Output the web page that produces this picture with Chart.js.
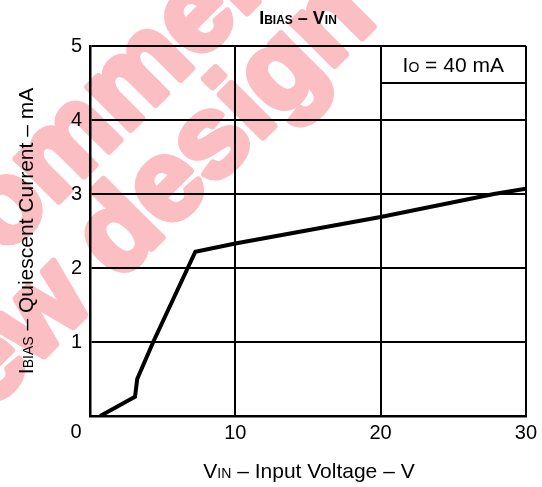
<!DOCTYPE html>
<html>
<head>
<meta charset="utf-8">
<script src="https://cdn.jsdelivr.net/npm/chart.js@4"></script>
<style>
  html, body { margin: 0; padding: 0; background: #fff; }
  #wrap { width: 542px; height: 487px; position: relative; }
</style>
</head>
<body>
<div id="wrap"><canvas id="c" width="542" height="487"></canvas></div>
<script>
// ---- data ----
const vinValues   = [0.7, 3.1, 3.25, 4.35, 7.25, 10, 20, 27.8, 30];   // V
const ibiasValues = [0, 0.26, 0.5, 1.0, 2.22, 2.33, 2.69, 3.0, 3.07];  // mA
const xTicks = [0, 10, 20, 30];
const yTicks = [0, 1, 2, 3, 4, 5];
const legendBoxX = [20, 30];
const legendBoxY = [4.5, 4.5];
const legendLabel = ['I', 'O', ' = 40 mA'];
const titleParts = [['I', 'BIAS'], [' – ', ''], ['V', 'IN']];
const xTitleParts = [['V', 'IN'], [' – Input Voltage – V', '']];
const yTitleParts = [['I', 'BIAS'], [' – Quiescent Current – mA', '']];
const watermarkLines = ['Not recommended', 'for new design'];

const FONT = '"Liberation Sans", Arial, Helvetica, sans-serif';

function partsWidth(ctx, parts, size, weight) {
  let w = 0;
  for (const [main, sub] of parts) {
    ctx.font = `${weight} ${size}px ${FONT}`;
    w += ctx.measureText(main).width;
    if (sub) { ctx.font = `${weight} ${Math.round(size * 0.68)}px ${FONT}`; w += ctx.measureText(sub).width; }
  }
  return w;
}
function drawParts(ctx, parts, x, y, size, weight) {
  ctx.textAlign = 'left';
  ctx.textBaseline = 'alphabetic';
  for (const [main, sub] of parts) {
    ctx.font = `${weight} ${size}px ${FONT}`;
    ctx.fillText(main, x, y);
    x += ctx.measureText(main).width;
    if (sub) {
      ctx.font = `${weight} ${Math.round(size * 0.68)}px ${FONT}`;
      ctx.fillText(sub, x, y);
      x += ctx.measureText(sub).width;
    }
  }
}

const decor = {
  id: 'decor',
  beforeDraw(chart) {
    const ctx = chart.ctx;
    ctx.save();
    ctx.fillStyle = '#fff';
    ctx.fillRect(0, 0, chart.width, chart.height);
    // watermark
    const F = 114;
    ctx.font = `bold ${F}px ${FONT}`;
    ctx.fillStyle = 'rgb(251,190,195)';
    ctx.strokeStyle = 'rgb(251,190,195)';
    ctx.lineWidth = 7;
    ctx.lineJoin = 'round';
    ctx.textAlign = 'left';
    ctx.textBaseline = 'alphabetic';
    const th = -Math.PI / 4;
    const anchors = [
      { text: watermarkLines[0], pre: 'Not recom', extra: 0, ax: 104, ay: 114 },
      { text: watermarkLines[1], pre: 'for new ', extra: 0.5, ax: 122, ay: 236 }
    ];
    for (const a of anchors) {
      let s = ctx.measureText(a.pre).width;
      if (a.extra) s += ctx.measureText('d').width * a.extra;
      ctx.save();
      ctx.translate(a.ax, a.ay);
      ctx.rotate(th);
      ctx.strokeText(a.text, -s, 0.26 * F);
      ctx.fillText(a.text, -s, 0.26 * F);
      ctx.restore();
    }
    ctx.restore();
  },
  afterDraw(chart) {
    const ctx = chart.ctx;
    const xs = chart.scales.x, ys = chart.scales.y;
    ctx.save();
    ctx.fillStyle = '#000';
    // title
    const tw = partsWidth(ctx, titleParts, 18, 'bold');
    drawParts(ctx, titleParts, 298 - tw / 2, 24, 18, 'bold');
    // x axis title
    const xw = partsWidth(ctx, xTitleParts, 21, 'normal');
    drawParts(ctx, xTitleParts, 309 - xw / 2, 478, 21, 'normal');
    // y axis title
    const yw = partsWidth(ctx, yTitleParts, 21, 'normal');
    ctx.save();
    ctx.translate(33, (ys.top + ys.bottom) / 2);
    ctx.rotate(-Math.PI / 2);
    drawParts(ctx, yTitleParts, -yw / 2, 0, 21, 'normal');
    ctx.restore();
    // shared zero label
    ctx.font = `20px ${FONT}`;
    ctx.textAlign = 'center';
    ctx.textBaseline = 'middle';
    ctx.fillText('0', 76, 432);
    // legend text in box
    const lx0 = xs.getPixelForValue(legendBoxX[0]), lx1 = xs.getPixelForValue(legendBoxX[1]);
    const lparts = [[legendLabel[0], legendLabel[1]], [legendLabel[2], '']];
    const lw = partsWidth(ctx, lparts, 21, 'normal');
    drawParts(ctx, lparts, (lx0 + lx1) / 2 - lw / 2, 72, 21, 'normal');
    ctx.restore();
  }
};

new Chart(document.getElementById('c'), {
  type: 'scatter',
  data: {
    datasets: [
      {
        data: vinValues.map((v, i) => ({ x: v, y: ibiasValues[i] })),
        showLine: true,
        borderColor: '#000',
        borderWidth: 4,
        pointRadius: 0,
        tension: 0,
        fill: false
      },
      {
        data: legendBoxX.map((v, i) => ({ x: v, y: legendBoxY[i] })),
        showLine: true,
        borderColor: '#000',
        borderWidth: 1.8,
        pointRadius: 0,
        fill: false
      }
    ]
  },
  options: {
    responsive: false,
    animation: false,
    events: [],
    layout: { padding: { left: 0, right: 14, top: 46, bottom: 0 } },
    plugins: { legend: { display: false }, tooltip: { enabled: false }, title: { display: false } },
    scales: {
      x: {
        type: 'linear', min: 0, max: 30,
        afterBuildTicks(s) { s.ticks = xTicks.map(v => ({ value: v })); },
        afterFit(s) { s.height = 71; },
        grid: { color: '#000', lineWidth: 2, drawTicks: false },
        border: { color: '#000', width: 2.5 },
        ticks: {
          color: '#000', padding: 5, maxRotation: 0,
          font: { family: FONT, size: 20 },
          callback: v => (v === 0 ? '' : String(v))
        }
      },
      y: {
        type: 'linear', min: 0, max: 5,
        afterBuildTicks(s) { s.ticks = yTicks.map(v => ({ value: v })); },
        afterFit(s) { s.width = 90; },
        grid: { color: '#000', lineWidth: 2, drawTicks: false },
        border: { color: '#000', width: 2.5 },
        ticks: {
          color: '#000', padding: 8,
          font: { family: FONT, size: 20 },
          callback: v => (v === 0 ? '' : String(v))
        }
      }
    }
  },
  plugins: [decor]
});
</script>
</body>
</html>
